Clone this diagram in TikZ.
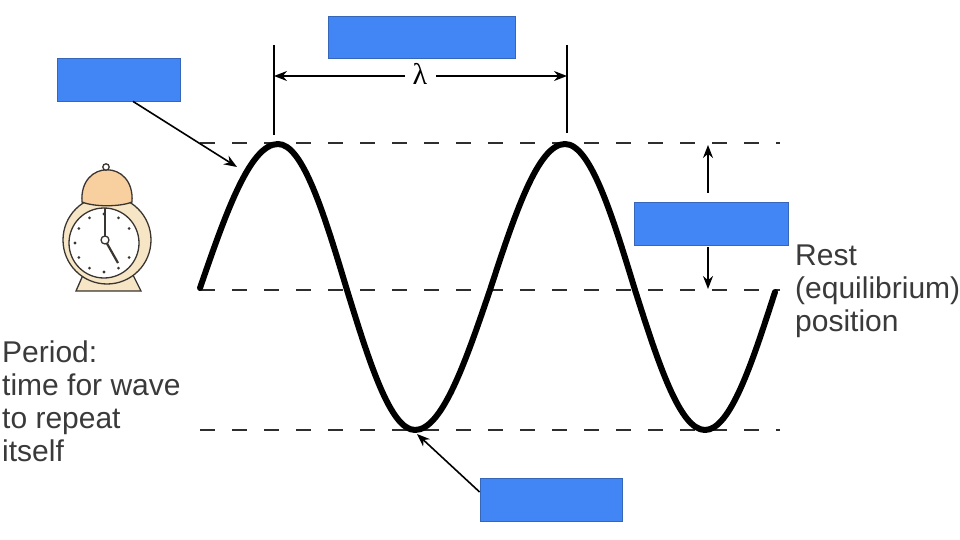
\documentclass[tikz,border=0pt]{standalone}
\usepackage{fontspec}
\setmainfont{Liberation Sans}
\newfontfamily\lamfont{Liberation Serif}
\usetikzlibrary{arrows.meta}
\definecolor{boxblue}{HTML}{4285F4}
\definecolor{boxedge}{HTML}{3566B8}
\definecolor{txtgray}{HTML}{3A3A3A}
\definecolor{dashgray}{HTML}{2E2E2E}
\definecolor{clockcream}{HTML}{F6E6C6}
\definecolor{clockpeach}{HTML}{F8D0A0}
\definecolor{clockline}{HTML}{3A3530}
\tikzset{
  bluebox/.style={draw=boxedge, line width=0.8pt, fill=boxblue, inner sep=0pt},
  refline/.style={draw=dashgray, line width=2.3pt, dash pattern=on 15pt off 17pt},
  wave/.style={line width=6pt, line cap=round, line join=round},
  pointer/.style={line width=1.6pt, -{Stealth[length=13pt,width=10pt]}},
  dimarrow/.style={line width=1.5pt, -{Stealth[length=13pt,width=10pt]}},
  label/.style={font=\fontsize{30}{33}\selectfont, text=txtgray, align=left, inner sep=0pt},
  clk/.style={draw=clockline, line width=1.3pt}
}
\begin{document}
\begin{tikzpicture}[x=1pt,y=-1pt]
\useasboundingbox (0,0) rectangle (960,540);
\fill[white] (0,0) rectangle (960,540);

% reference lines
\coordinate (topL) at (200,143);
\coordinate (topR) at (780,143);
\coordinate (midL) at (200,290);
\coordinate (midR) at (780,290);
\coordinate (botL) at (200,430);
\coordinate (botR) at (780,430);
\draw[refline] (topL) -- (topR);
\draw[refline] (midL) -- (midR);
\draw[refline] (botL) -- (botR);

% wave
\draw[wave] (200,288) sin (278,144) cos (347,290) sin (415,430) cos (490,290)
  sin (565,144) cos (635,290) sin (705,430) cos (775,292);

% wavelength markers
\coordinate (l1t) at (274,45);
\coordinate (l1b) at (274,135);
\coordinate (l2t) at (567,45);
\coordinate (l2b) at (567,133);
\draw[line width=1.5pt] (l1t) -- (l1b);
\draw[line width=1.5pt] (l2t) -- (l2b);
\node[inner sep=0pt, font=\lamfont\fontsize{30}{30}\selectfont] (lam) at (420,74) {λ};
\coordinate (la) at (274,76);
\coordinate (lb) at (567,76);
\coordinate (lgapL) at (405,76);
\coordinate (lgapR) at (436,76);
\draw[dimarrow] (lgapL) -- (la);
\draw[dimarrow] (lgapR) -- (lb);

% blue boxes
\node[bluebox, minimum width=123pt, minimum height=43pt] (b1) at (118.5,79.5) {};
\node[bluebox, minimum width=187pt, minimum height=42pt] (b2) at (421.5,37) {};
\node[bluebox, minimum width=154pt, minimum height=43pt] (b3) at (711,223.5) {};
\node[bluebox, minimum width=142pt, minimum height=43pt] (b4) at (551,499.5) {};

% pointers
\coordinate (crestpt) at (237,167);
\coordinate (troughpt) at (417,434);
\draw[pointer] ([xshift=14.5pt]b1.south) -- (crestpt);
\draw[pointer] ([yshift=7.5pt]b4.west) -- (troughpt);

% amplitude arrows
\coordinate (ampTop) at (708,145);
\coordinate (ampBot) at (708,289);
\draw[dimarrow] ([yshift=9pt]b3.north -| ampTop) -- (ampTop);
\draw[dimarrow] ([yshift=-2pt]b3.south -| ampBot) -- (ampBot);

% texts
\node[label, anchor=north west] (rest) at (795,245) {Rest\\(equilibrium)\\position};
\node[label, anchor=north west] (period) at (2,341) {Period:\\time for wave\\to repeat\\itself};

% clock
\begin{scope}
  \filldraw[clk, fill=clockcream] (76,291) -- (83,275) -- (133,275) -- (141,291) -- cycle;
  \filldraw[clk, fill=clockcream] (107,240) circle (44);
  \filldraw[clk, fill=clockpeach] (82,202) .. controls (79,159) and (135,159) .. (132,202)
     .. controls (120,207) and (94,207) .. (82,202) -- cycle;
  \filldraw[clk, fill=white] (106,167) circle (3.2);
  \filldraw[clk, fill=white] (104,243) circle (35);
  \foreach \a in {30,60,90,120,150,180,210,240,270,300,330} {
    \fill[clockline] (104,243) ++(\a:29) circle (1.6);
  }
  \draw[clockline, line width=2.2pt] (105,240) -- (105,208);
  \draw[clockline, line width=2.2pt] (105,240) -- (118,263);
  \filldraw[clk, fill=white] (105,240) circle (4);
\end{scope}
\end{tikzpicture}
\end{document}
